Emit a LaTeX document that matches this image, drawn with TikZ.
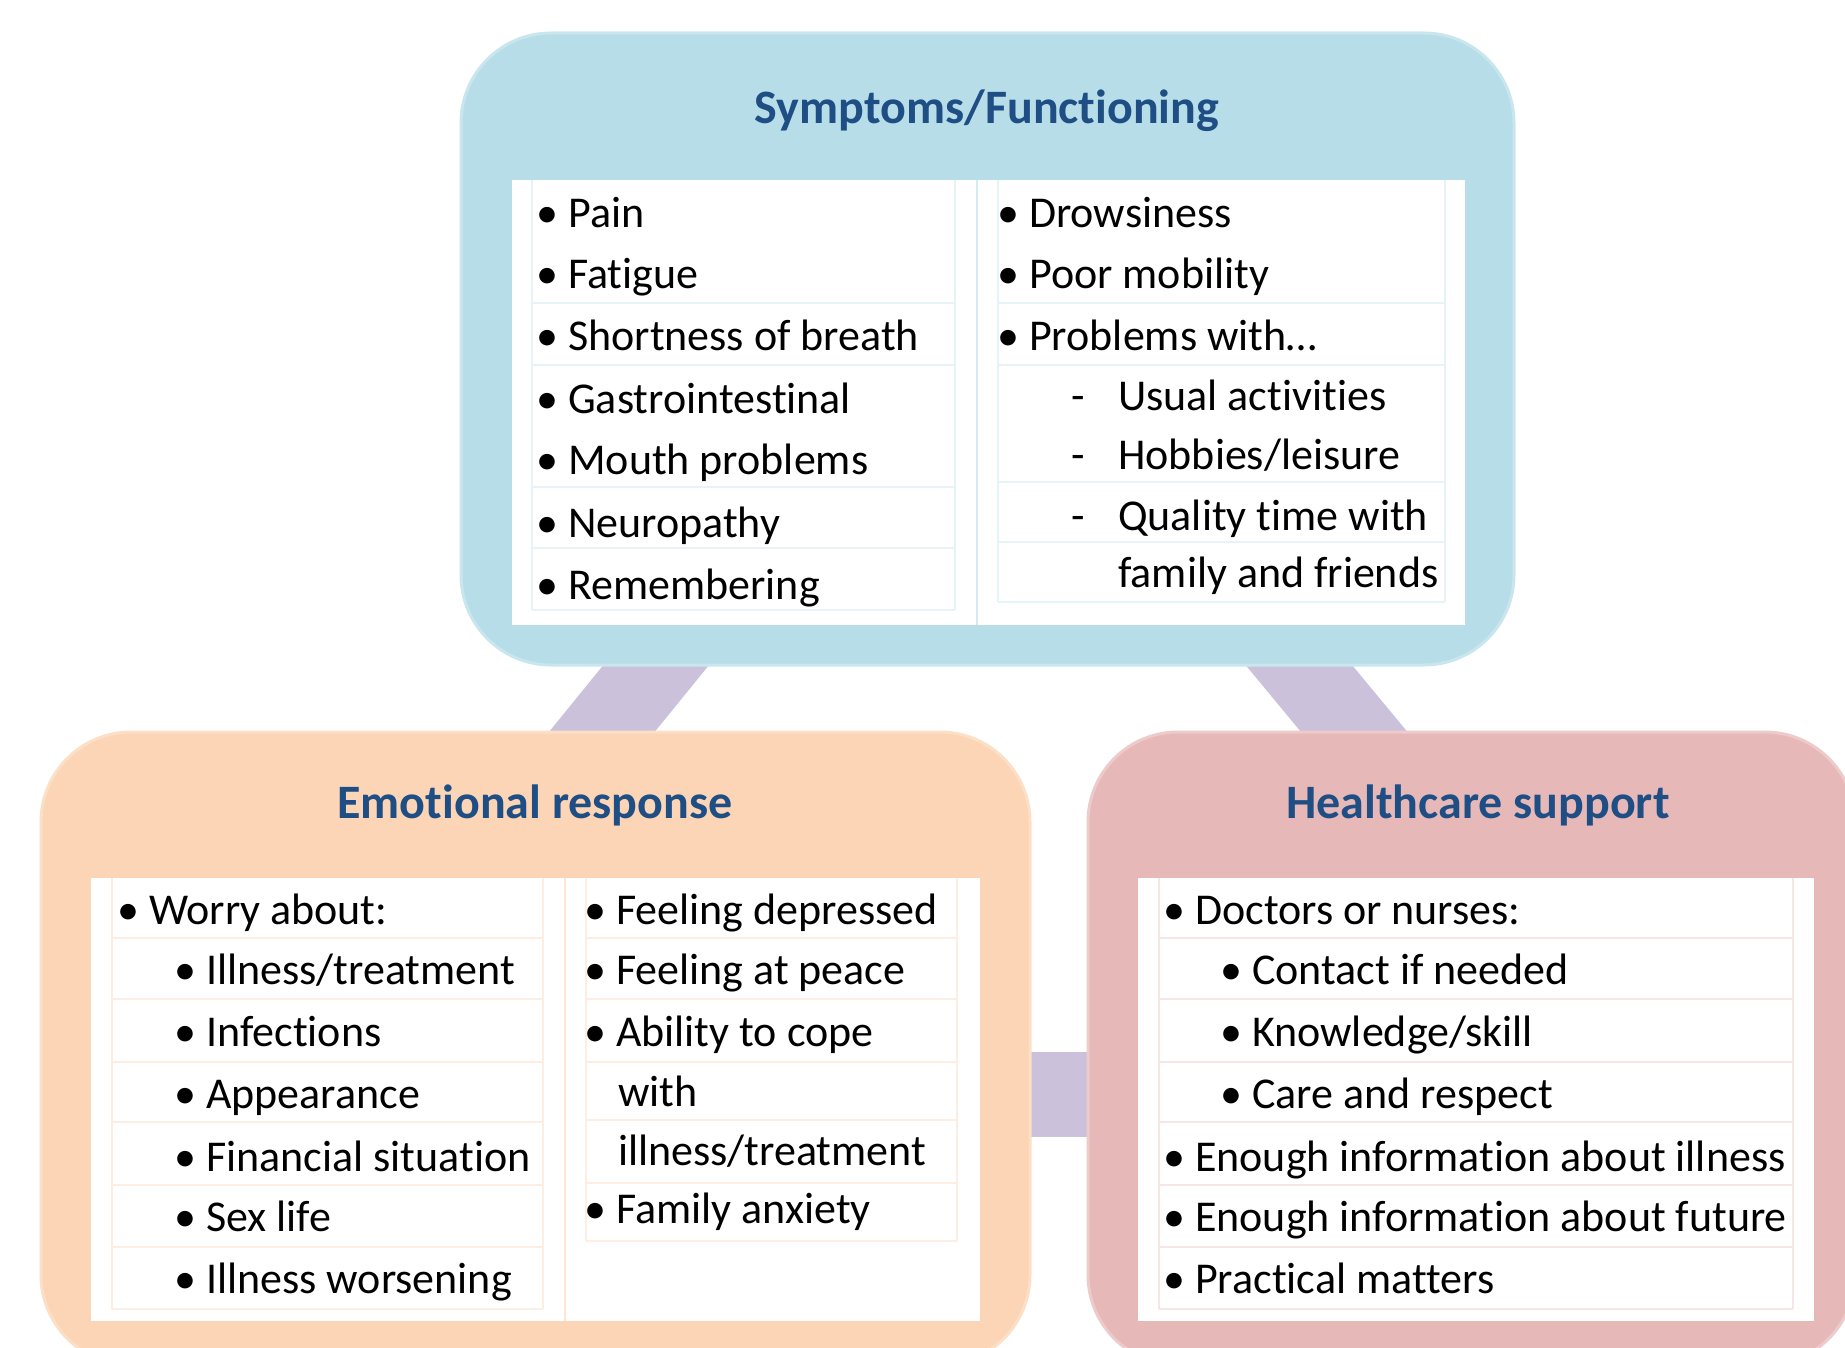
\documentclass[tikz,border=0pt]{standalone}
\usepackage{fontspec}
\setmainfont[Ligatures=NoCommon]{Carlito}
\usetikzlibrary{calc,backgrounds}
\definecolor{bluebox}{HTML}{B7DEE8}
\definecolor{orgbox}{HTML}{FBD5B5}
\definecolor{pinkbox}{HTML}{E6B9B8}
\definecolor{linkc}{HTML}{CCC1DA}
\definecolor{ttl}{HTML}{1F4E85}
\definecolor{lnblue}{HTML}{E6F3F7}
\definecolor{lnorg}{HTML}{FDEDE2}
\definecolor{lnpink}{HTML}{F7E6E6}
\newcommand\bl{\makebox[0pt]{\textbullet}\hspace{21pt}}
\newcommand\dsh{\makebox[0pt]{-}\hspace{40pt}}
\tikzset{
  grp/.style={rounded corners=90pt, inner sep=0pt, line width=3pt},
  tbl/.style={fill=white, inner sep=0pt, minimum width=#1},
  ttlsty/.style={anchor=base, inner sep=0pt, text=ttl, font=\fontsize{48}{54}\selectfont\bfseries},
  it/.style={anchor=base west, inner sep=0pt, font=\fontsize{44}{50}\selectfont},
  linkst/.style={draw=linkc, line width=#1, shorten <=-40pt, shorten >=-40pt},
  rb/.style={draw=lnblue, line width=1.5pt},
  ro/.style={draw=lnorg, line width=1.5pt},
  rp/.style={draw=lnpink, line width=1.5pt}
}
\begin{document}
\begin{tikzpicture}[x=1pt,y=-1pt]
\useasboundingbox (0,0) rectangle (1845,1348);
\clip (0,0) rectangle (1845,1348);
% group boxes
\node[grp, fill=bluebox, draw=bluebox!75!white, minimum width=1053pt, minimum height=632pt] (top) at (987.5,349) {};
\node[grp, fill=orgbox, draw=orgbox!75!white, minimum width=989pt, minimum height=633pt] (emo) at (535.5,1048.5) {};
\node[grp, fill=pinkbox, draw=pinkbox!75!white, minimum width=767pt, minimum height=633pt] (hc) at (1471.5,1048.5) {};
% connectors
\coordinate (c1a) at ($(top.south)+(-332.5,0)$);
\coordinate (c1b) at ($(emo.north)+(67.5,0)$);
\coordinate (c2a) at ($(top.south)+(312.5,0)$);
\coordinate (c2b) at ($(hc.north)+(-118.5,0)$);
\coordinate (c3a) at ($(emo.east)+(0,45.5)$);
\coordinate (c3b) at ($(hc.west)+(0,45.5)$);
\begin{scope}[on background layer]
\draw[linkst=82pt] (c1a) -- (c1b);
\draw[linkst=82pt] (c2a) -- (c2b);
\draw[linkst=85pt] (c3a) -- (c3b);
\end{scope}
% white tables
\node[tbl=953pt, minimum height=445pt, anchor=north west] (ttab) at (512,180) {};
\node[tbl=889pt, minimum height=443pt, anchor=north west] (etab) at (91,878) {};
\node[tbl=676pt, minimum height=443pt, anchor=north west] (htab) at (1138,878) {};
% titles
\node[ttlsty] (t0) at (987,124) {Symptoms/Functioning};
\node[ttlsty] (e0) at (535,818) {Emotional response};
\node[ttlsty] (h0) at (1478,818) {Healthcare support};
% rules top table
\draw[rb] (532,180) -- (532,610) (955,180) -- (955,610) (998,180) -- (998,602) (1445,180) -- (1445,602);
\draw[draw=bluebox!60!white, line width=1.5pt] (977,180) -- (977,625);
\foreach \y in {303,365,487,548,610} \draw[rb] (532,\y) -- (955,\y);
\foreach \y in {303,365,482,542,602} \draw[rb] (998,\y) -- (1445,\y);
% rules emotional table
\draw[ro] (112,878) -- (112,1309) (543,878) -- (543,1309) (586,878) -- (586,1241) (957,878) -- (957,1241);
\draw[draw=orgbox!60!white, line width=1.5pt] (565,878) -- (565,1321);
\foreach \y in {938,999,1062,1122,1185,1247,1309} \draw[ro] (112,\y) -- (543,\y);
\foreach \y in {938,999,1062,1120,1183,1241} \draw[ro] (586,\y) -- (957,\y);
% rules healthcare table
\draw[rp] (1159,878) -- (1159,1309) (1793,878) -- (1793,1309);
\foreach \y in {938,999,1062,1122,1185,1247,1309} \draw[rp] (1159,\y) -- (1793,\y);
% top table text
\node[it] (s1) at (547,228) {\bl Pain};
\node[it] (s2) at (547,289) {\bl Fatigue};
\node[it] (s3) at (547,351) {\bl Shortness of breath};
\node[it] (s4) at (547,413) {\bl Gastrointestinal};
\node[it] (s5) at (547,474) {\bl Mouth problems};
\node[it] (s6) at (547,537) {\bl Neuropathy};
\node[it] (s7) at (547,599) {\bl Remembering};
\node[it] (f1) at (1008,228) {\bl Drowsiness};
\node[it] (f2) at (1008,289) {\bl Poor mobility};
\node[it] (f3) at (1008,351) {\bl Problems with…};
\node[it] (f4) at (1078,410) {\dsh Usual activities};
\node[it] (f5) at (1078,469) {\dsh Hobbies/leisure};
\node[it] (f6) at (1078,530) {\dsh Quality time with};
\node[it] (f7) at (1118,587) {family and friends};
% emotional text
\node[it] (e1) at (128,924) {\bl Worry about:};
\node[it] (e2) at (185,984) {\bl Illness/treatment};
\node[it] (e3) at (185,1046) {\bl Infections};
\node[it] (e4) at (185,1108) {\bl Appearance};
\node[it] (e5) at (185,1171) {\bl Financial situation};
\node[it] (e6) at (185,1231) {\bl Sex life};
\node[it] (e7) at (185,1293) {\bl Illness worsening};
\node[it] (r1) at (595,924) {\bl Feeling depressed};
\node[it] (r2) at (595,984) {\bl Feeling at peace};
\node[it] (r3) at (595,1046) {\bl Ability to cope};
\node[it] (r4) at (618,1106) {with};
\node[it] (r5) at (618,1165) {illness/treatment};
\node[it] (r6) at (595,1223) {\bl Family anxiety};
% healthcare text
\node[it] (h1) at (1174,924) {\bl Doctors or nurses:};
\node[it] (h2) at (1231,984) {\bl Contact if needed};
\node[it] (h3) at (1231,1046) {\bl Knowledge/skill};
\node[it] (h4) at (1231,1108) {\bl Care and respect};
\node[it] (h5) at (1174,1171) {\bl Enough information about illness};
\node[it] (h6) at (1174,1231) {\bl Enough information about future};
\node[it] (h7) at (1174,1293) {\bl Practical matters};
\end{tikzpicture}
\end{document}
